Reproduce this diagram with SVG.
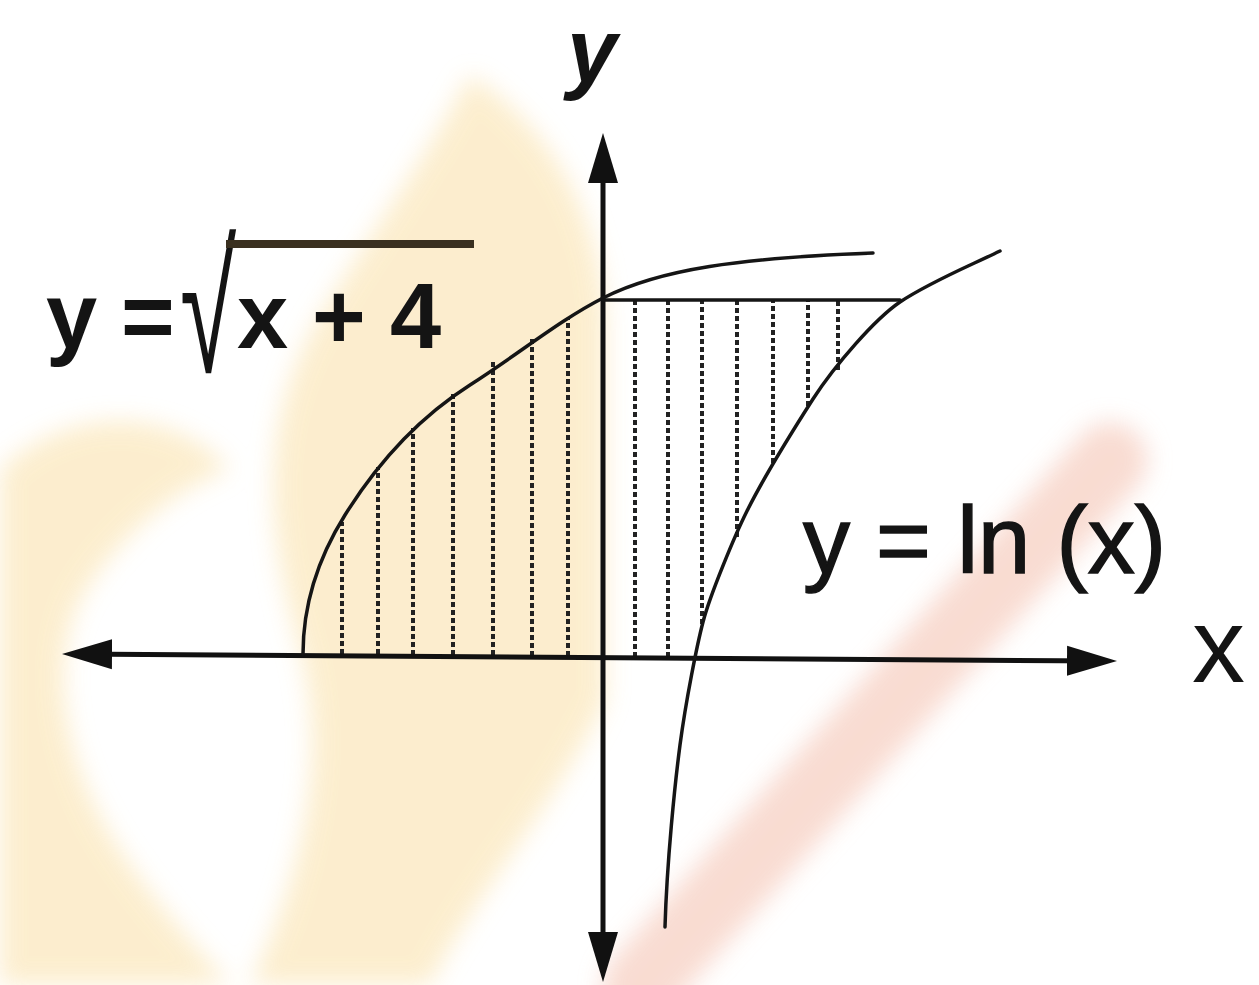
<svg xmlns="http://www.w3.org/2000/svg" width="1259" height="985" viewBox="0 0 1259 985">
  <style>
    .axis { stroke: #111; stroke-width: 5; fill: none; }
    .curve { stroke: #151515; stroke-width: 3.5; fill: none; stroke-linejoin: round; stroke-linecap: round; }
    .hatch { stroke: #222; stroke-width: 4; stroke-dasharray: 5 3; fill: none; }
    .lbl { font-family: "Liberation Sans", Arial, sans-serif; fill: #141414; }
    .bold { font-weight: bold; }
    .wm-y { fill: #fcebc6; }
  </style>
  <defs>
    <marker id="arrow" viewBox="0 0 50 32" refX="40" refY="16" markerWidth="50" markerHeight="32" markerUnits="userSpaceOnUse" orient="auto-start-reverse">
      <path d="M0,1 L50,16 L0,31 Z" fill="#111"/>
    </marker>
    <filter id="soft" x="-20%" y="-20%" width="140%" height="140%">
      <feGaussianBlur stdDeviation="12"/>
    </filter>
  </defs>

  <rect x="0" y="0" width="1259" height="985" fill="#ffffff"/>

  <g id="watermark" filter="url(#soft)" opacity="0.85">
    <path class="wm-y" d="M470,75 C540,120 600,200 605,320 L605,700 C560,800 470,900 430,985 L250,985 C300,880 330,760 300,650 C270,540 250,420 330,300 C380,220 430,150 470,75 Z"/>
    <path class="wm-y" d="M0,470 C60,410 170,400 230,470 C190,480 120,530 80,600 C50,660 60,760 120,850 C160,910 200,950 230,985 L0,985 Z"/>
    <line x1="1110" y1="460" x2="640" y2="985" stroke="#f8d6ca" stroke-width="75" stroke-linecap="round"/>
  </g>

  <g id="hatching">
    <line class="hatch" x1="342" y1="654" x2="342" y2="522"/>
    <line class="hatch" x1="378" y1="654" x2="378" y2="467"/>
    <line class="hatch" x1="413" y1="655" x2="413" y2="428"/>
    <line class="hatch" x1="453" y1="655" x2="453" y2="393"/>
    <line class="hatch" x1="493" y1="655" x2="493" y2="360"/>
    <line class="hatch" x1="532" y1="656" x2="532" y2="337"/>
    <line class="hatch" x1="568" y1="656" x2="568" y2="318"/>
    <line class="hatch" x1="635" y1="657" x2="635" y2="300"/>
    <line class="hatch" x1="668" y1="657" x2="668" y2="300"/>
    <line class="hatch" x1="702" y1="624" x2="702" y2="300"/>
    <line class="hatch" x1="737" y1="537" x2="737" y2="300"/>
    <line class="hatch" x1="773" y1="463" x2="773" y2="300"/>
    <line class="hatch" x1="808" y1="406" x2="808" y2="300"/>
    <line class="hatch" x1="838" y1="370" x2="838" y2="300"/>
  </g>

  <g id="connectors">
    <line id="x-axis" class="axis" x1="72" y1="654" x2="1107" y2="661" marker-start="url(#arrow)" marker-end="url(#arrow)"/>
    <line id="y-axis" class="axis" x1="603" y1="972" x2="603" y2="143" marker-start="url(#arrow)" marker-end="url(#arrow)"/>
    <path id="sqrt-curve" class="curve" d="M303,654 C303,600 320,555 345,515 C375,467 415,420 470,385 C520,353 560,320 603,298 C660,269 740,258 873,253"/>
    <path id="ln-curve" class="curve" d="M1000,251 C967,267 930,282 900,302 C875,319 835,365 813,399 C797,424 765,475 747,511 C735,535 710,595 703,622 C697,645 686,700 680,745 C675,783 667,860 665,927"/>
    <line id="y2-line" class="curve" x1="603" y1="300" x2="900" y2="300"/>
  </g>

  <g id="label-y">
    <text class="lbl bold" x="567" y="82" font-size="90" font-style="italic">y</text>
  </g>
  <g id="label-x">
    <text class="lbl" x="1192" y="682" font-size="106">x</text>
  </g>
  <g id="label-sqrt">
    <text class="lbl bold" y="348" font-size="92"><tspan x="46">y</tspan><tspan x="121">=</tspan></text>
    <text class="lbl" x="180" y="372" font-size="128" transform="translate(180,372) scale(0.8,1.41) translate(-180,-372)">√</text>
    <line x1="226" y1="244" x2="474" y2="244" stroke="#3a3020" stroke-width="8"/>
    <text class="lbl bold" y="348" font-size="92"><tspan x="237">x</tspan><tspan x="312">+</tspan><tspan x="390">4</tspan></text>
  </g>
  <g id="label-ln">
    <text class="lbl" x="803" y="573" font-size="94" stroke="#141414" stroke-width="1.5">y = ln (x)</text>
  </g>
</svg>
